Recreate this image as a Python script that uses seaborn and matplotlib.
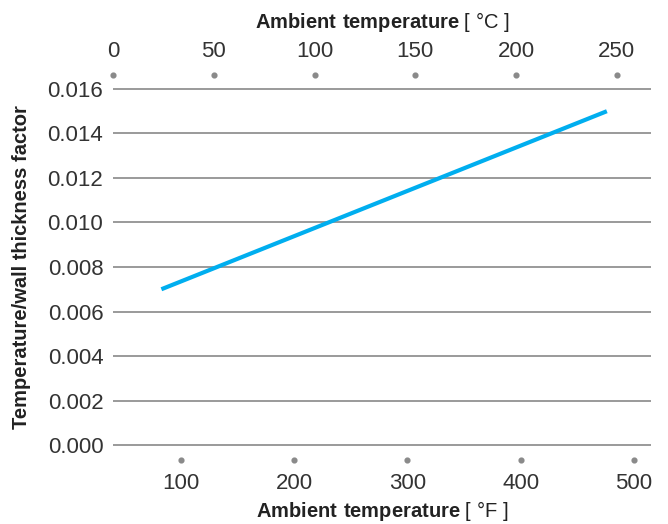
import matplotlib
matplotlib.use("Agg")
import matplotlib.pyplot as plt
import seaborn as sns
import pandas as pd

# ==============================================================================
# DATA
# ==============================================================================
temp_c = [24, 245]
factor = [0.0070, 0.0150]

c_ticks = [0, 50, 100, 150, 200, 250]
f_ticks = [100, 200, 300, 400, 500]
y_ticks = [0.000, 0.002, 0.004, 0.006, 0.008, 0.010, 0.012, 0.014, 0.016]

df = pd.DataFrame({"temp_c": temp_c, "factor": factor})

# ==============================================================================
# STYLE
# ==============================================================================
sns.set_theme(style="white")
plt.rcParams["font.family"] = ["Liberation Sans", "DejaVu Sans"]
plt.rcParams["mathtext.fontset"] = "custom"
plt.rcParams["mathtext.bf"] = "Liberation Sans:bold"
plt.rcParams["mathtext.rm"] = "Liberation Sans"

text_col = "#222222"
tick_col = "#333333"
grid_col = "#9a9a9a"
dot_col = "#8a8a8a"
line_col = "#00aeef"

fig = plt.figure(figsize=(6.68, 5.24), dpi=100)
ax = fig.add_axes([113 / 668, 1 - 449.5 / 524, 538 / 668, 365 / 524])

# bottom axis: Fahrenheit
ax.set_xlim(40, 515)
ax.set_ylim(-0.0002, 0.0162)
ax.set_yticks(y_ticks)
ax.set_yticklabels([f"{v:.3f}" for v in y_ticks])
ax.set_xticks(f_ticks)
ax.grid(axis="y", color=grid_col, linewidth=1.4)
ax.grid(axis="x", visible=False)
for s in ax.spines.values():
    s.set_visible(False)
ax.spines["bottom"].set_position(("outward", 7.7))

# top axis: Celsius (line is drawn here)
ax_top = ax.twiny()
ax_top.set_xlim(0, 266.9)
ax_top.set_xticks(c_ticks)
for s in ax_top.spines.values():
    s.set_visible(False)
ax_top.spines["top"].set_position(("outward", 7.0))

sns.lineplot(data=df, x="temp_c", y="factor", ax=ax_top, color=line_col,
             linewidth=3.0, solid_capstyle="butt")
ax_top.set_ylabel("")

# dotted ticks
for a in (ax, ax_top):
    a.tick_params(axis="x", length=0, pad=9, labelsize=16, labelcolor=tick_col)
    for t in a.xaxis.get_ticklines():
        t.set_marker("o")
        t.set_markersize(3.2)
        t.set_markerfacecolor(dot_col)
        t.set_markeredgecolor(dot_col)
ax.tick_params(axis="y", length=0, pad=7, labelsize=16, labelcolor=tick_col)

# axis labels
ax.set_xlabel(r"$\mathbf{Ambient\ temperature}$ [ °F ]", fontsize=14.5, color=text_col)
ax_top.set_xlabel(r"$\mathbf{Ambient\ temperature}$ [ °C ]", fontsize=14.5, color=text_col)
ax.set_ylabel("Temperature/wall thickness factor", fontsize=14.5, fontweight="bold",
              color=text_col)
ax.xaxis.set_label_coords(0.5, -0.135)
ax_top.xaxis.set_label_coords(0.5, 1.155)
ax.yaxis.set_label_coords(-0.152, 0.5)

fig.savefig("out.png", dpi=100)
